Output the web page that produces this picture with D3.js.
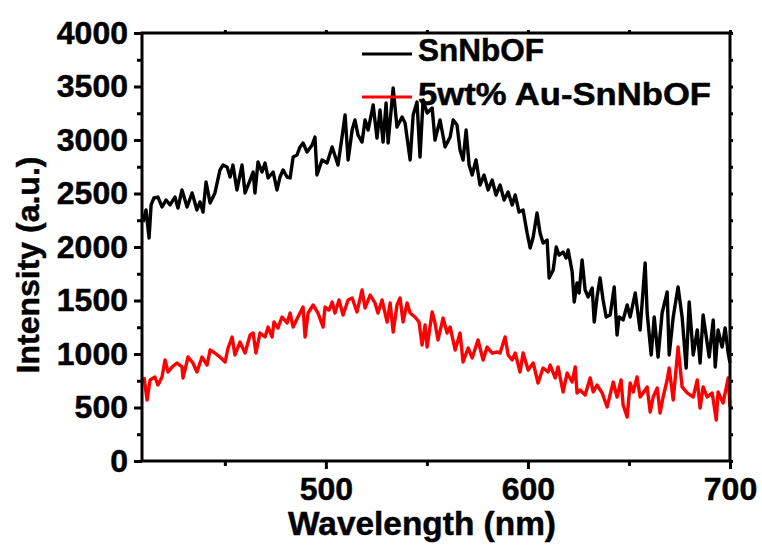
<!DOCTYPE html>
<html><head><meta charset="utf-8">
<script src="https://cdn.jsdelivr.net/npm/d3@7"></script>
<style>
html,body{margin:0;padding:0;background:#fff;}
text{font-family:"Liberation Sans",Arial,sans-serif;font-weight:bold;stroke:#000;stroke-width:0.5px;}
</style></head>
<body><svg id="c" width="762" height="548"></svg>
<script>
// ---- data ----
const seriesNames = ["SnNbOF", "5wt% Au-SnNbOF"];
const xTickValues = [500, 600, 700];
const xMinorTicks = [450, 550, 650];
const yTickValues = [0, 500, 1000, 1500, 2000, 2500, 3000, 3500, 4000];
const yMinorTicks = [250, 750, 1250, 1750, 2250, 2750, 3250, 3750];

const wlBlack = [409.5,411.0,412.5,413.5,414.9,416.9,418.9,420.9,422.9,425.3,426.8,428.8,431.3,433.8,436.2,437.7,439.2,440.7,442.7,445.1,447.6,449.1,451.1,452.6,454.0,456.0,458.5,460.0,462.5,464.0,464.9,466.4,468.4,469.9,471.4,473.9,475.8,477.3,478.8,480.8,482.3,483.8,485.7,487.2,488.7,490.7,493.2,494.6,495.6,498.1,500.6,503.1,506.0,508.0,509.5,511.0,513.0,514.4,515.9,517.9,519.4,520.9,523.4,525.3,526.8,528.3,529.8,530.8,533.3,535.2,537.7,539.2,541.7,543.2,545.1,546.6,548.1,550.1,552.6,554.0,556.5,559.0,561.5,563.0,564.9,566.4,567.9,569.4,570.9,572.4,574.3,576.3,578.3,580.3,582.3,584.2,586.2,588.2,590.2,592.2,593.7,595.6,597.6,599.6,601.1,602.6,604.5,606.0,607.5,609.5,610.5,612.5,614.0,615.4,617.4,618.9,619.9,621.9,622.9,624.3,625.3,626.8,628.3,629.8,631.8,632.8,634.2,635.7,637.2,638.7,640.7,642.7,644.1,645.1,647.1,649.1,650.6,653.1,655.5,658.0,659.0,661.0,662.5,664.4,666.4,668.9,669.9,671.9,674.3,676.3,678.3,679.8,681.8,683.8,685.2,686.7,689.7,691.7,692.7,694.1,696.1,697.6,699.1,700.0];
const intBlack = [2234,2346,2084,2393,2458,2467,2374,2439,2393,2467,2364,2533,2374,2505,2346,2421,2327,2607,2411,2505,2720,2766,2748,2654,2766,2533,2766,2505,2626,2701,2505,2794,2701,2785,2645,2701,2533,2654,2720,2654,2645,2841,2860,2935,2972,2888,2953,3028,2673,2813,2785,2935,2766,3028,3234,2813,3093,3187,3047,2981,3187,3093,3327,3019,3280,2981,3346,2972,3486,3121,3215,3159,2813,3234,3355,2841,3374,3252,3299,3000,3187,2935,3028,3187,3140,2907,2813,3093,2766,2673,2813,2579,2673,2533,2626,2486,2579,2439,2514,2393,2486,2327,2346,2131,1991,2093,2318,2131,2037,2065,1710,1785,2000,1925,1953,1897,1972,1766,1486,1664,1570,1879,1598,1533,1617,1299,1533,1710,1505,1346,1364,1626,1178,1346,1318,1458,1346,1570,1224,1850,1383,991,1346,972,1383,1579,991,1346,1626,1346,869,1486,991,1224,916,1364,972,1318,879,1224,1065,1243,1009,916];

const wlRed = [410.0,411.5,413.0,415.4,416.9,418.9,420.4,421.9,423.9,426.3,428.8,429.3,431.8,434.2,436.2,438.7,441.2,442.7,445.1,447.6,450.1,451.6,453.6,455.0,457.5,460.0,462.5,464.0,465.4,467.4,469.9,471.4,473.4,474.3,476.3,478.3,480.8,482.3,483.8,486.2,488.7,489.7,491.2,493.7,496.1,498.6,499.6,501.6,503.1,504.5,506.5,508.5,511.0,513.0,515.4,517.9,519.4,521.9,524.3,525.8,527.8,530.3,531.8,533.3,535.2,536.7,538.2,540.2,541.7,544.1,546.1,547.6,549.1,550.1,552.6,554.0,555.5,558.0,560.0,561.5,564.0,566.4,567.9,570.4,572.4,575.3,577.8,579.8,582.3,584.7,586.2,588.7,590.2,592.2,593.7,596.1,597.6,600.1,602.6,605.0,607.5,610.0,611.0,613.5,614.9,617.4,619.4,621.9,623.4,624.3,625.8,628.3,630.8,632.3,634.2,636.7,639.2,642.2,644.1,646.1,647.1,649.1,650.6,652.1,654.0,655.5,657.0,659.0,660.5,662.0,664.0,665.4,666.9,668.9,669.9,671.9,674.3,676.3,678.8,681.8,683.8,685.2,686.7,688.7,691.2,693.2,694.1,696.6,699.1,700.0];
const intRed = [785,570,757,785,710,785,944,832,879,916,879,776,972,916,832,972,897,1037,1009,972,925,1056,1159,991,1112,1009,1178,1196,1009,1196,1159,1252,1159,1299,1243,1346,1290,1383,1252,1346,1439,1159,1383,1458,1383,1252,1439,1411,1486,1383,1505,1364,1505,1523,1393,1598,1430,1551,1477,1383,1505,1299,1477,1206,1458,1523,1299,1477,1383,1346,1299,1084,1271,1065,1393,1290,1131,1336,1196,1252,1037,1196,925,1056,963,1131,944,1065,1009,1019,1009,1159,991,944,1009,832,1009,850,916,729,869,832,897,776,879,645,822,738,879,636,664,617,776,645,710,636,505,738,598,757,523,411,729,645,785,598,636,692,458,598,682,449,598,757,869,570,1065,692,636,598,757,495,692,598,636,383,645,542,776,505];

const series = [
  {name: seriesNames[0], wl: wlBlack, val: intBlack, color: "#000000"},
  {name: seriesNames[1], wl: wlRed, val: intRed, color: "#ff0000"}
];

// ---- layout ----
const svg = d3.select("#c");
const L = 142, R = 730, T = 33, B = 461;
const x = d3.scaleLinear().domain([409, 700]).range([L, R]);
const y = d3.scaleLinear().domain([0, 4000]).range([B, T]);

// data lines
const line = d3.line().x((d) => x(d[0])).y((d) => y(d[1]));
series.forEach((s) => {
  const pts = s.wl.map((w, i) => [w, s.val[i]]);
  svg.append("path").datum(pts).attr("d", line)
    .attr("fill", "none").attr("stroke", s.color)
    .attr("stroke-width", 3.4).attr("stroke-linejoin", "round");
});

function styleAxis(g) {
  g.select(".domain").remove();
  g.selectAll(".tick line").attr("stroke", "#000").attr("stroke-width", 3);
  g.selectAll("text").attr("fill", "#000").style("font-size", "32px")
    .style("font-family", '"Liberation Sans", Arial, sans-serif').style("font-weight", "bold");
}

// bottom axis
const gx = svg.append("g").attr("transform", `translate(0,${B})`)
  .call(d3.axisBottom(x).tickValues(xTickValues).tickSize(8).tickPadding(8).tickFormat(d3.format("d")));
styleAxis(gx);
gx.selectAll("text").attr("dy", "0.71em").attr("y", 16);
const gxm = svg.append("g").attr("transform", `translate(0,${B})`)
  .call(d3.axisBottom(x).tickValues(xMinorTicks).tickSize(5).tickFormat(""));
styleAxis(gxm);

// top mirrored ticks
const gt = svg.append("g").attr("transform", `translate(0,${T})`)
  .call(d3.axisTop(x).tickValues(xTickValues.concat(xMinorTicks)).tickSize(3).tickFormat(""));
styleAxis(gt);

// left axis
const gy = svg.append("g").attr("transform", `translate(${L},0)`)
  .call(d3.axisLeft(y).tickValues(yTickValues).tickSize(8).tickPadding(6).tickFormat(d3.format("d")));
styleAxis(gy);
const gym = svg.append("g").attr("transform", `translate(${L},0)`)
  .call(d3.axisLeft(y).tickValues(yMinorTicks).tickSize(5).tickFormat(""));
styleAxis(gym);

// right mirrored ticks
const gr = svg.append("g").attr("transform", `translate(${R},0)`)
  .call(d3.axisRight(y).tickValues(yTickValues.concat(yMinorTicks)).tickSize(3).tickFormat(""));
styleAxis(gr);

// frame
svg.append("rect").attr("x", L).attr("y", T).attr("width", R - L).attr("height", B - T)
  .attr("fill", "none").attr("stroke", "#000").attr("stroke-width", 3);

// axis titles
svg.append("text").attr("x", 422).attr("y", 535).attr("text-anchor", "middle")
  .attr("textLength", 268).attr("lengthAdjust", "spacingAndGlyphs")
  .style("font-size", "33px").text("Wavelength (nm)");
svg.append("text").attr("transform", "translate(39,265) rotate(-90)").attr("text-anchor", "middle")
  .style("font-size", "32px").text("Intensity (a.u.)");

// legend
const legY = [54, 97];
const legLen = [126, 293];
series.forEach((s, i) => {
  svg.append("line").attr("x1", 362).attr("x2", 412).attr("y1", legY[i]).attr("y2", legY[i])
    .attr("stroke", s.color).attr("stroke-width", 3);
  svg.append("text").attr("x", 418).attr("y", legY[i] + (i === 0 ? 7 : 8))
    .attr("textLength", legLen[i]).attr("lengthAdjust", "spacingAndGlyphs")
    .style("font-size", "32px").text(s.name);
});
</script></body></html>
